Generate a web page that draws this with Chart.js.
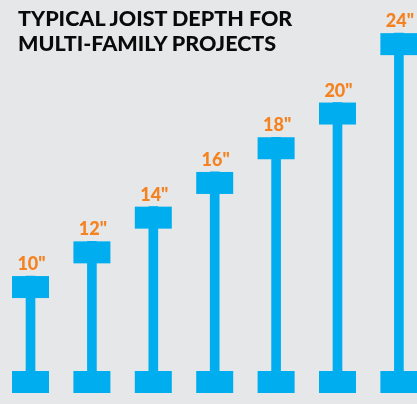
<!DOCTYPE html>
<html lang="en">
<head>
    <meta charset="UTF-8">
    <title>Typical Joist Depth</title>
    <script src="https://cdn.jsdelivr.net/npm/chart.js"></script>
    <style>
        body { margin: 0; background: #e6e7e8; }
        .wrap { position: relative; width: 417px; height: 404px; overflow: hidden; }
        .title {
            position: absolute; left: 18px; top: 6px; margin: 0;
            font: 900 21.5px/25px Lato, sans-serif; color: #0a0a0a;
        }
        canvas { position: absolute; left: 0; top: 0; }
    </style>
</head>
<body>
    <div class="wrap">
        <canvas id="joistChart" width="417" height="404"></canvas>
        <h1 class="title">TYPICAL JOIST DEPTH FOR<br>MULTI-FAMILY PROJECTS</h1>
    </div>

    <script>
        // joist depths in inches
        const depthLabels = ['10"', '12"', '14"', '16"', '18"', '20"', '24"'];
        const depths = [10, 12, 14, 16, 18, 20, 24];

        const BLUE = '#00aeef';
        const ORANGE = '#f58220';
        const Y_MIN = 3.26, Y_MAX = 25.91;

        // draws the flanges of each I-beam plus the depth label on top
        const ibeamPlugin = {
            id: 'ibeam',
            afterDatasetsDraw(chart) {
                const ctx = chart.ctx;
                const meta = chart.getDatasetMeta(0);
                const flangeW = 37, flangeH = 22;
                ctx.save();
                meta.data.forEach((bar, i) => {
                    const p = bar.getProps(['x', 'y', 'base'], true);
                    ctx.fillStyle = BLUE;
                    ctx.fillRect(p.x - flangeW / 2, p.y, flangeW, flangeH);
                    ctx.fillRect(p.x - flangeW / 2, p.base - flangeH, flangeW, flangeH);
                    ctx.fillStyle = ORANGE;
                    ctx.font = '900 18px Lato, sans-serif';
                    ctx.textAlign = 'center';
                    ctx.textBaseline = 'alphabetic';
                    ctx.fillText(depthLabels[i], p.x + 1, p.y - 6);
                });
                ctx.restore();
            }
        };

        const ctx = document.getElementById('joistChart').getContext('2d');
        new Chart(ctx, {
            type: 'bar',
            data: {
                datasets: [{
                    data: depths.map((d, i) => ({ x: i, y: d })),
                    backgroundColor: BLUE,
                    barThickness: 9,
                    base: Y_MIN
                }]
            },
            options: {
                responsive: false,
                animation: false,
                layout: { padding: { top: 0, left: 0, right: 0, bottom: 11 } },
                plugins: {
                    legend: { display: false },
                    tooltip: { enabled: false }
                },
                scales: {
                    x: { type: 'linear', display: false, offset: false, min: -0.497, max: 6.295 },
                    y: { display: false, min: Y_MIN, max: Y_MAX }
                }
            },
            plugins: [ibeamPlugin]
        });
    </script>
</body>
</html>
